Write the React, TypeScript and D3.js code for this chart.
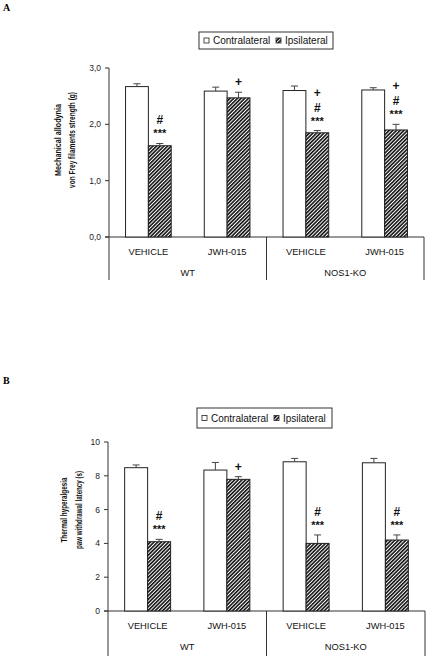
import React from "react";
import * as d3 from "d3";

// ---------- DATA ----------
const categories = ["WT|VEHICLE", "WT|JWH-015", "NOS1-KO|VEHICLE", "NOS1-KO|JWH-015"];
const treatmentLabels = ["VEHICLE", "JWH-015", "VEHICLE", "JWH-015"];
const genotypeGroups = ["WT", "NOS1-KO"];
const seriesNames = ["Contralateral", "Ipsilateral"];

const allodyniaContra = [2.67, 2.59, 2.6, 2.61];
const allodyniaContraErr = [0.05, 0.07, 0.08, 0.04];
const allodyniaIpsi = [1.62, 2.47, 1.85, 1.9];
const allodyniaIpsiErr = [0.04, 0.1, 0.04, 0.1];
const allodyniaTicks = [0, 1, 2, 3];
const allodyniaMarks = [["***", "#"], ["+"], ["***", "#", "+"], ["***", "#", "+"]];

const thermalContra = [8.48, 8.34, 8.83, 8.77];
const thermalContraErr = [0.16, 0.45, 0.2, 0.26];
const thermalIpsi = [4.1, 7.79, 4.0, 4.2];
const thermalIpsiErr = [0.14, 0.16, 0.5, 0.3];
const thermalTicks = [0, 2, 4, 6, 8, 10];
const thermalMarks = [["***", "#"], ["+"], ["***", "#"], ["***", "#"]];

const FONT = "'Liberation Sans', Arial, sans-serif";
const SERIF = "'Liberation Serif', 'Times New Roman', serif";

type PanelProps = {
  letter: string;
  letterY: number;
  contra: number[];
  contraErr: number[];
  ipsi: number[];
  ipsiErr: number[];
  ticks: number[];
  tickFmt: (v: number) => string;
  marks: string[][];
  title: string[];
  titleLens: number[];
  titleX: number[];
  titleCY: number;
  xLeft: number;
  xRight: number;
  yBottom: number;
  yTop: number;
  catLabelY: number;
  groupLabelY: number;
  lineBottom: number;
  legend: { x: number; y: number; w: number; h: number };
  patternId: string;
};

function Panel(p: PanelProps) {
  const maxV = p.ticks[p.ticks.length - 1];
  const y = d3.scaleLinear().domain([0, maxV]).range([p.yBottom, p.yTop]);
  const x = d3
    .scaleBand<string>()
    .domain(categories)
    .range([p.xLeft, p.xRight])
    .paddingInner(0.42)
    .paddingOuter(0.21);
  const xs = d3.scaleBand<string>().domain(seriesNames).range([0, x.bandwidth()]);
  const step = (p.xRight - p.xLeft) / categories.length;
  const axisColor = "#333";

  const markDy: Record<string, number> = { "***": 2, "#": 4, "+": 4 };

  const bars = categories.map((c, i) => {
    const x0 = x(c)!;
    const vals = [
      { s: seriesNames[0], v: p.contra[i], e: p.contraErr[i] },
      { s: seriesNames[1], v: p.ipsi[i], e: p.ipsiErr[i] },
    ];
    return (
      <g key={c}>
        {vals.map((d, j) => {
          const bx = x0 + xs(d.s)!;
          const bw = xs.bandwidth();
          const cx = bx + bw / 2;
          return (
            <g key={d.s}>
              <rect
                x={bx}
                y={y(d.v)}
                width={bw}
                height={y(0) - y(d.v)}
                fill={j === 0 ? "#fff" : `url(#${p.patternId})`}
                stroke="#222"
                strokeWidth={1}
              />
              <line x1={cx} x2={cx} y1={y(d.v)} y2={y(d.v + d.e)} stroke="#444" strokeWidth={1} />
              <line x1={cx - 3.5} x2={cx + 3.5} y1={y(d.v + d.e)} y2={y(d.v + d.e)} stroke="#444" strokeWidth={1} />
            </g>
          );
        })}
        {p.marks[i].map((m, k) => {
          const bx = x0 + xs(seriesNames[1])! + xs.bandwidth() / 2;
          const top = y(p.ipsi[i] + p.ipsiErr[i]);
          const cy = top - (m === "+" && k === 0 ? 10 : 8) - 15 * k;
          return (
            <text
              key={k}
              x={bx}
              y={cy + markDy[m]}
              textAnchor="middle"
              fontFamily={FONT}
              fontWeight="bold"
              fontSize={m === "***" ? 11 : 12}
              fill="#111"
            >
              {m}
            </text>
          );
        })}
      </g>
    );
  });

  const L = p.legend;
  return (
    <g>
      <text x={3} y={p.letterY} fontFamily={SERIF} fontWeight="bold" fontSize={10} fill="#000">
        {p.letter}
      </text>
      {/* legend */}
      <rect x={L.x} y={L.y} width={L.w} height={L.h} fill="#fff" stroke="#333" strokeWidth={1} />
      <rect x={L.x + 5} y={L.y + L.h / 2 - 2.5} width={5} height={5} fill="#fff" stroke="#222" strokeWidth={0.8} />
      <text x={L.x + 14} y={L.y + L.h / 2 + 3.5} fontFamily={FONT} fontSize={10} fill="#111">
        {seriesNames[0]}
      </text>
      <rect
        x={L.x + 77}
        y={L.y + L.h / 2 - 2.5}
        width={5}
        height={5}
        fill={`url(#${p.patternId})`}
        stroke="#222"
        strokeWidth={0.8}
      />
      <text x={L.x + 86} y={L.y + L.h / 2 + 3.5} fontFamily={FONT} fontSize={10} fill="#111">
        {seriesNames[1]}
      </text>

      {/* y axis title */}
      {p.title.map((t, i) => (
        <text
          key={i}
          transform={`translate(${p.titleX[i] + 3.5},${p.titleCY}) rotate(-90)`}
          textAnchor="middle"
          fontFamily={FONT}
          fontWeight="bold"
          fontSize={9.5}
          textLength={p.titleLens[i]}
          lengthAdjust="spacingAndGlyphs"
          fill="#111"
        >
          {t}
        </text>
      ))}

      {/* y axis */}
      <line x1={p.xLeft} x2={p.xLeft} y1={y(maxV)} y2={p.lineBottom} stroke={axisColor} strokeWidth={1} />
      {p.ticks.map((t) => (
        <g key={t}>
          <line x1={p.xLeft - 4} x2={p.xLeft} y1={y(t)} y2={y(t)} stroke={axisColor} strokeWidth={1} />
          <text
            x={p.xLeft - 8}
            y={y(t) + 3}
            textAnchor="end"
            fontFamily={FONT}
            fontSize={8.5}
            fill="#222"
          >
            {p.tickFmt(t)}
          </text>
        </g>
      ))}
      {/* x axis */}
      <line x1={p.xLeft - 4} x2={p.xRight} y1={y(0)} y2={y(0)} stroke={axisColor} strokeWidth={1} />
      {bars}
      {/* group separators */}
      {[1, 2].map((k) => {
        const gx = k === 2 ? p.xRight : p.xLeft + step * 2 * k;
        return <line key={k} x1={gx} x2={gx} y1={y(0)} y2={p.lineBottom} stroke={axisColor} strokeWidth={1} />;
      })}
      {categories.map((c, i) => (
        <text
          key={c}
          x={x(c)! + x.bandwidth() / 2}
          y={p.catLabelY}
          textAnchor="middle"
          fontFamily={FONT}
          fontSize={9.3}
          fill="#111"
        >
          {treatmentLabels[i]}
        </text>
      ))}
      {genotypeGroups.map((g, i) => (
        <text
          key={g}
          x={p.xLeft + step * (2 * i + 1)}
          y={p.groupLabelY}
          textAnchor="middle"
          fontFamily={FONT}
          fontSize={9.3}
          fill="#111"
        >
          {g}
        </text>
      ))}
    </g>
  );
}

export default function App() {
  const commaFmt = (v: number) => d3.format(".1f")(v).replace(".", ",");
  const intFmt = (v: number) => d3.format("d")(v);
  return (
    <svg
      width={430}
      height={658}
      style={{ position: "absolute", left: 0, top: 0, background: "#fff" }}
      xmlns="http://www.w3.org/2000/svg"
    >
      <defs>
        {["hatchA", "hatchB"].map((id) => (
          <pattern key={id} id={id} patternUnits="userSpaceOnUse" width={2.6} height={2.6} patternTransform="rotate(45)">
            <rect width={2.6} height={2.6} fill="#fff" />
            <line x1={0.8} y1={0} x2={0.8} y2={2.6} stroke="#111" strokeWidth={1.6} />
          </pattern>
        ))}
      </defs>
      <rect width={430} height={658} fill="#fff" />
      <Panel
        letter="A"
        letterY={11}
        contra={allodyniaContra}
        contraErr={allodyniaContraErr}
        ipsi={allodyniaIpsi}
        ipsiErr={allodyniaIpsiErr}
        ticks={allodyniaTicks}
        tickFmt={commaFmt}
        marks={allodyniaMarks}
        title={["Mechanical allodynia", "von Frey filaments strength (g)"]}
        titleLens={[72, 96]}
        titleX={[57, 71]}
        titleCY={140}
        xLeft={109}
        xRight={424}
        yBottom={237}
        yTop={68}
        catLabelY={255}
        groupLabelY={276}
        lineBottom={280}
        legend={{ x: 199, y: 32, w: 134, h: 17 }}
        patternId="hatchA"
      />
      <Panel
        letter="B"
        letterY={384}
        contra={thermalContra}
        contraErr={thermalContraErr}
        ipsi={thermalIpsi}
        ipsiErr={thermalIpsiErr}
        ticks={thermalTicks}
        tickFmt={intFmt}
        marks={thermalMarks}
        title={["Thermal hyperalgesia", "paw withdrawal latency (s)"]}
        titleLens={[65, 78]}
        titleX={[63, 78]}
        titleCY={510}
        xLeft={108}
        xRight={425}
        yBottom={611}
        yTop={442}
        catLabelY={629}
        groupLabelY={650}
        lineBottom={656}
        legend={{ x: 197, y: 408, w: 135, h: 20 }}
        patternId="hatchB"
      />
    </svg>
  );
}
